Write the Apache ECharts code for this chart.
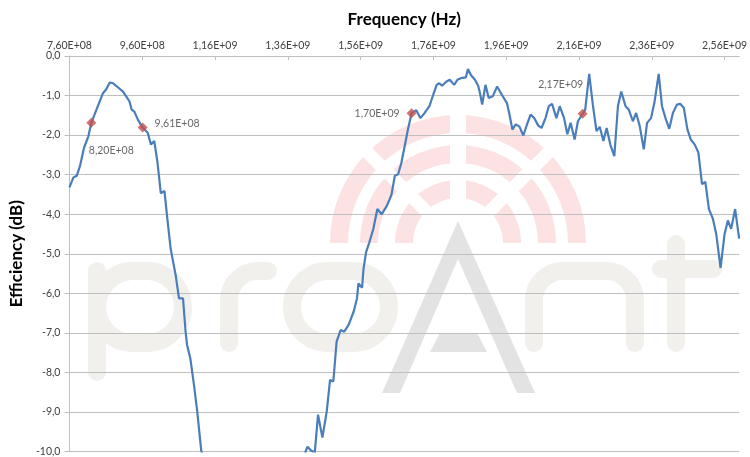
<!DOCTYPE html>
<html><head><meta charset="utf-8">
<script src="https://cdn.jsdelivr.net/npm/echarts@6/dist/echarts.min.js"></script>
<style>html,body{margin:0;padding:0;background:#fff}#c{width:750px;height:457px}</style>
</head><body><div id="c"></div>
<script>
// Frequency in MHz, efficiency in dB (values below -10 dB are clipped in the original)
const freqMHz = [760,771,780,789,800,812,820,834,852,861,871,880,893,907,916,925,931,938,948,961,975,984,993,1002,1011,1021,1029,1038,1052,1061,1072,1079,1083,1092,1102,1111,1122,
1140,1180,1230,1280,1330,1380,
1410,1414,1423,1434,1443,1455,1467,1476,1485,1494,1505,1515,1527,1541,1550,1554,1564,1568,1575,1584,1595,1606,1618,1632,1640,1645,1654,1663,1672,1681,1690,1700,1713,1724,1736,1749,1758,1769,1776,1784,1795,1805,1817,1826,1835,1849,1855,1863,1874,1883,1888,1894,1903,1912,1923,1935,1948,1962,1969,1977,1986,1996,2007,2016,2027,2037,2048,2057,2068,2077,2086,2098,2107,2119,2128,2137,2148,2157,2170,2177,2188,2198,2208,2217,2227,2236,2246,2257,2267,2276,2288,2297,2308,2317,2327,2338,2347,2358,2367,2379,2388,2399,2408,2418,2429,2438,2448,2458,2467,2478,2488,2498,2507,2517,2528,2537,2549,2560,2569,2578,2589,2600];
const effDb = [-3.32,-3.07,-3.03,-2.78,-2.32,-2.03,-1.69,-1.36,-0.94,-0.84,-0.67,-0.69,-0.79,-0.90,-1.02,-1.15,-1.36,-1.40,-1.61,-1.81,-1.94,-2.24,-2.15,-2.70,-3.47,-3.41,-4.12,-4.87,-5.55,-6.13,-6.13,-6.96,-7.30,-7.64,-8.31,-8.98,-9.97,
-10.6,-11.5,-12.2,-12.4,-11.8,-10.9,
-9.97,-9.88,-9.97,-10.03,-9.07,-9.65,-8.98,-8.19,-8.23,-7.22,-6.93,-6.97,-6.80,-6.46,-6.13,-5.75,-5.86,-5.38,-4.96,-4.71,-4.37,-3.87,-4.00,-3.79,-3.62,-3.49,-3.03,-2.99,-2.70,-2.28,-1.86,-1.45,-1.37,-1.57,-1.44,-1.27,-1.02,-0.73,-0.69,-0.75,-0.65,-0.60,-0.73,-0.60,-0.56,-0.54,-0.33,-0.48,-0.60,-0.75,-0.94,-1.23,-0.73,-1.06,-1.02,-0.77,-0.98,-1.19,-1.48,-1.86,-1.73,-1.78,-2.01,-1.76,-1.48,-1.57,-1.76,-1.82,-1.57,-1.27,-1.21,-1.57,-1.27,-1.57,-1.98,-1.69,-2.11,-1.65,-1.46,-1.36,-0.45,-1.23,-1.90,-1.79,-2.15,-1.82,-2.24,-2.53,-1.27,-0.90,-1.27,-1.36,-1.65,-1.44,-1.78,-2.36,-1.69,-1.57,-1.19,-0.45,-1.27,-1.61,-1.84,-1.44,-1.23,-1.21,-1.31,-1.86,-2.11,-2.24,-2.44,-3.24,-3.18,-3.87,-4.12,-4.50,-5.36,-4.50,-4.16,-4.37,-3.87,-4.62];
// Marked points
const markFreqMHz = [820, 961, 1700, 2170];
const markDb = [-1.69, -1.81, -1.45, -1.46];
const markLabelPos = [['bottom',[20,12]], ['right',[2,-4]], ['left',[-2,0]], ['top',[-22,-14]]];

const xMin = 760e6, xMax = 2600e6, xStep = 200e6;
const yMin = -10, yMax = 0, yStep = 1;

function fmtE(v){
  const s = v.toExponential(2).split('e');
  const m = s[0].replace('.', ',');
  const ex = parseInt(s[1], 10);
  const sign = ex < 0 ? '-' : '+';
  const a = Math.abs(ex);
  return m + 'E' + sign + (a < 10 ? '0' + a : a);
}

const lineData = freqMHz.map((f, i) => [f * 1e6, effDb[i]]);
const markData = markFreqMHz.map((f, i) => ({
  value: [f * 1e6, markDb[i]],
  label: { position: markLabelPos[i][0], offset: markLabelPos[i][1] }
}));

const C = [458, 243];
const pink = '#fce2e2', lgray = '#f1f0ed', agray = '#e3e3e3';
const sw = 18;
function ring(r0, r){ return {type:'sector', z:-3, shape:{cx:C[0], cy:C[1], r0:r0, r:r, startAngle:Math.PI, endAngle:2*Math.PI, clockwise:true}, style:{fill:pink}}; }
function band(rot, w){ return {type:'rect', z:-2, x:C[0], y:C[1], rotation:rot, shape:{x:-w/2, y:-140, width:w, height:140}, style:{fill:'#fff'}}; }
function st(){ return {fill:null, stroke:lgray, lineWidth:sw, lineCap:'round', lineJoin:'round'}; }
function pl(pts){ return {type:'polyline', z:-1, shape:{points:pts}, style:st()}; }
function arc(cx, cy, r, a0, a1){ return {type:'arc', z:-1, shape:{cx:cx, cy:cy, r:r, startAngle:a0, endAngle:a1, clockwise:true}, style:st()}; }
function rrect(x, y, w, h, r){ return {type:'rect', z:-1, shape:{x:x, y:y, width:w, height:h, r:r}, style:st()}; }
const P = Math.PI;

const chart = echarts.init(document.getElementById('c'), null, {renderer:'canvas'});
chart.setOption({
  animation: false,
  backgroundColor: '#fff',
  textStyle: { fontFamily: 'Lato, "Open Sans", sans-serif' },
  grid: { left: 66, right: 7, top: 56, bottom: 3, containLabel: false },
  graphic: { elements: [
    ring(110,128), ring(80,98), ring(45,63),
    band(0,16), band(P/4,13), band(-P/4,13),
    // p
    rrect(97,271,86,72,36), pl([[97,271],[97,372]]),
    // r
    pl([[229,343],[229,300]]), arc(258,300,29,P,1.5*P), pl([[258,271],[268,271]]),
    // o
    rrect(292,271,97,72,36),
    // n
    pl([[534,343],[534,300]]), arc(563,300,29,P,1.5*P), pl([[563,271],[606,271]]), arc(606,300,29,1.5*P,2*P), pl([[635,300],[635,343]]),
    // t
    pl([[676,244],[676,343]]), pl([[661,269],[713,269]]),
    // A
    {type:'polygon', z:-1, shape:{points:[[458,221],[535,393],[517,393],[458,259],[400,393],[382,393]]}, style:{fill:agray}},
    {type:'polygon', z:-1, shape:{points:[[440,333],[477,333],[487,352],[430,352]]}, style:{fill:agray}}
  ]},
  xAxis: {
    type: 'value', position: 'top', min: xMin, max: xMax, interval: xStep,
    name: 'Frequency (Hz)', nameLocation: 'middle', nameGap: 28,
    nameTextStyle: { fontSize: 17, fontWeight: 'bold', color: '#000' },
    axisLine: { show: true, lineStyle: { color: '#bfbfbf' } },
    axisTick: { show: true, inside: true, length: 4, lineStyle: { color: '#bfbfbf' } },
    axisLabel: { formatter: fmtE, fontSize: 10.5, color: '#404040', margin: 5, showMaxLabel: false },
    splitLine: { show: false }
  },
  yAxis: {
    type: 'value', min: yMin, max: yMax, interval: yStep,
    name: 'Efficiency (dB)', nameLocation: 'middle', nameGap: 33, nameRotate: 90,
    nameTextStyle: { fontSize: 17, fontWeight: 'bold', color: '#000' },
    axisLine: { show: true, lineStyle: { color: '#bfbfbf' } },
    axisTick: { show: true, length: 5, lineStyle: { color: '#bfbfbf' } },
    axisLabel: { formatter: v => v.toFixed(1).replace('.', ','), fontSize: 10.5, color: '#404040', margin: 9 },
    splitLine: { show: true, lineStyle: { color: '#bfbfbf', width: 1 } }
  },
  series: [
    { type: 'line', data: lineData, showSymbol: false, symbol: 'none', z: 10, clip: true,
      lineStyle: { color: '#4a7ebb', width: 2.2 } },
    { type: 'scatter', data: markData, symbol: 'diamond', symbolSize: 10, z: 11,
      itemStyle: { color: '#c0504d' },
      label: { show: true, formatter: p => fmtE(p.value[0]), fontSize: 10.5, color: '#404040' } }
  ]
});
</script></body></html>
